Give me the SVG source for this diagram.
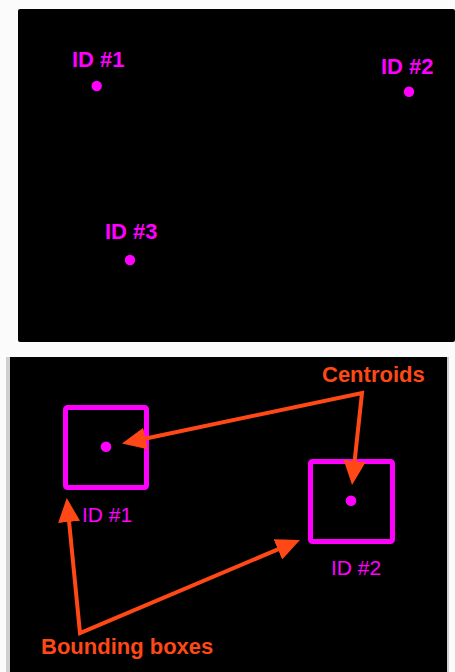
<svg xmlns="http://www.w3.org/2000/svg" width="455" height="672" viewBox="0 0 455 672">
  <style>
    .panel { fill: #000000; }
    .edge { fill: #cfcfcf; }
    .dot { fill: #ff00ff; }
    .idBold { font-family: "Liberation Sans", Arial, sans-serif; font-weight: bold; font-size: 22px; fill: #ff00ff; }
    .idPlain { font-family: "Liberation Sans", Arial, sans-serif; font-size: 21px; fill: #ff00ff; }
    .box { fill: none; stroke: #ff00ff; stroke-width: 5; }
    .callout { font-family: "Liberation Sans", Arial, sans-serif; font-weight: bold; font-size: 22px; fill: #ff4816; }
    .arrow { fill: none; stroke: #ff4816; stroke-width: 4; stroke-linejoin: miter; }
  </style>
  <defs>
    <marker id="head" viewBox="0 0 24 22" refX="2" refY="11" markerWidth="24" markerHeight="22" markerUnits="userSpaceOnUse" orient="auto-start-reverse">
      <path d="M0,0 L24,11 L0,22 z" fill="#ff4816"/>
    </marker>
  </defs>

  <rect width="455" height="672" fill="#fbfbfb"/>

  <!-- upper frame: objects as centroids only -->
  <rect class="panel" x="18" y="9" width="437" height="333" rx="2"/>

  <g id="obj1">
    <text class="idBold" x="72" y="67">ID #1</text>
    <circle class="dot" cx="96.7" cy="86" r="5.2"/>
  </g>
  <g id="obj2">
    <text class="idBold" x="381" y="74">ID #2</text>
    <circle class="dot" cx="409" cy="91.7" r="5.2"/>
  </g>
  <g id="obj3">
    <text class="idBold" x="105" y="239">ID #3</text>
    <circle class="dot" cx="130" cy="260" r="5.2"/>
  </g>

  <!-- lower frame: bounding boxes with centroids -->
  <rect class="edge" x="6" y="357" width="443" height="315"/>
  <rect class="panel" x="10" y="357" width="437" height="315"/>

  <g id="box1">
    <rect class="box" x="65.5" y="407.5" width="81" height="80" rx="2"/>
    <circle class="dot" cx="106" cy="446.7" r="5.3"/>
    <text class="idPlain" x="82" y="522">ID #1</text>
  </g>
  <g id="box2">
    <rect class="box" x="310.5" y="461.5" width="82" height="80" rx="2"/>
    <circle class="dot" cx="351" cy="500.7" r="5.3"/>
    <text class="idPlain" x="331" y="575">ID #2</text>
  </g>

  <g id="label-centroids">
    <text class="callout" x="322" y="382">Centroids</text>
  </g>
  <g id="label-boxes">
    <text class="callout" x="41" y="654">Bounding boxes</text>
  </g>

  <g id="connectors">
    <path class="arrow" d="M143.5,439 L362,393 L354.4,463.1" marker-start="url(#head)" marker-end="url(#head)"/>
    <path class="arrow" d="M68.9,519.9 L80,633 L279.7,548.6" marker-start="url(#head)" marker-end="url(#head)"/>
  </g>
</svg>
